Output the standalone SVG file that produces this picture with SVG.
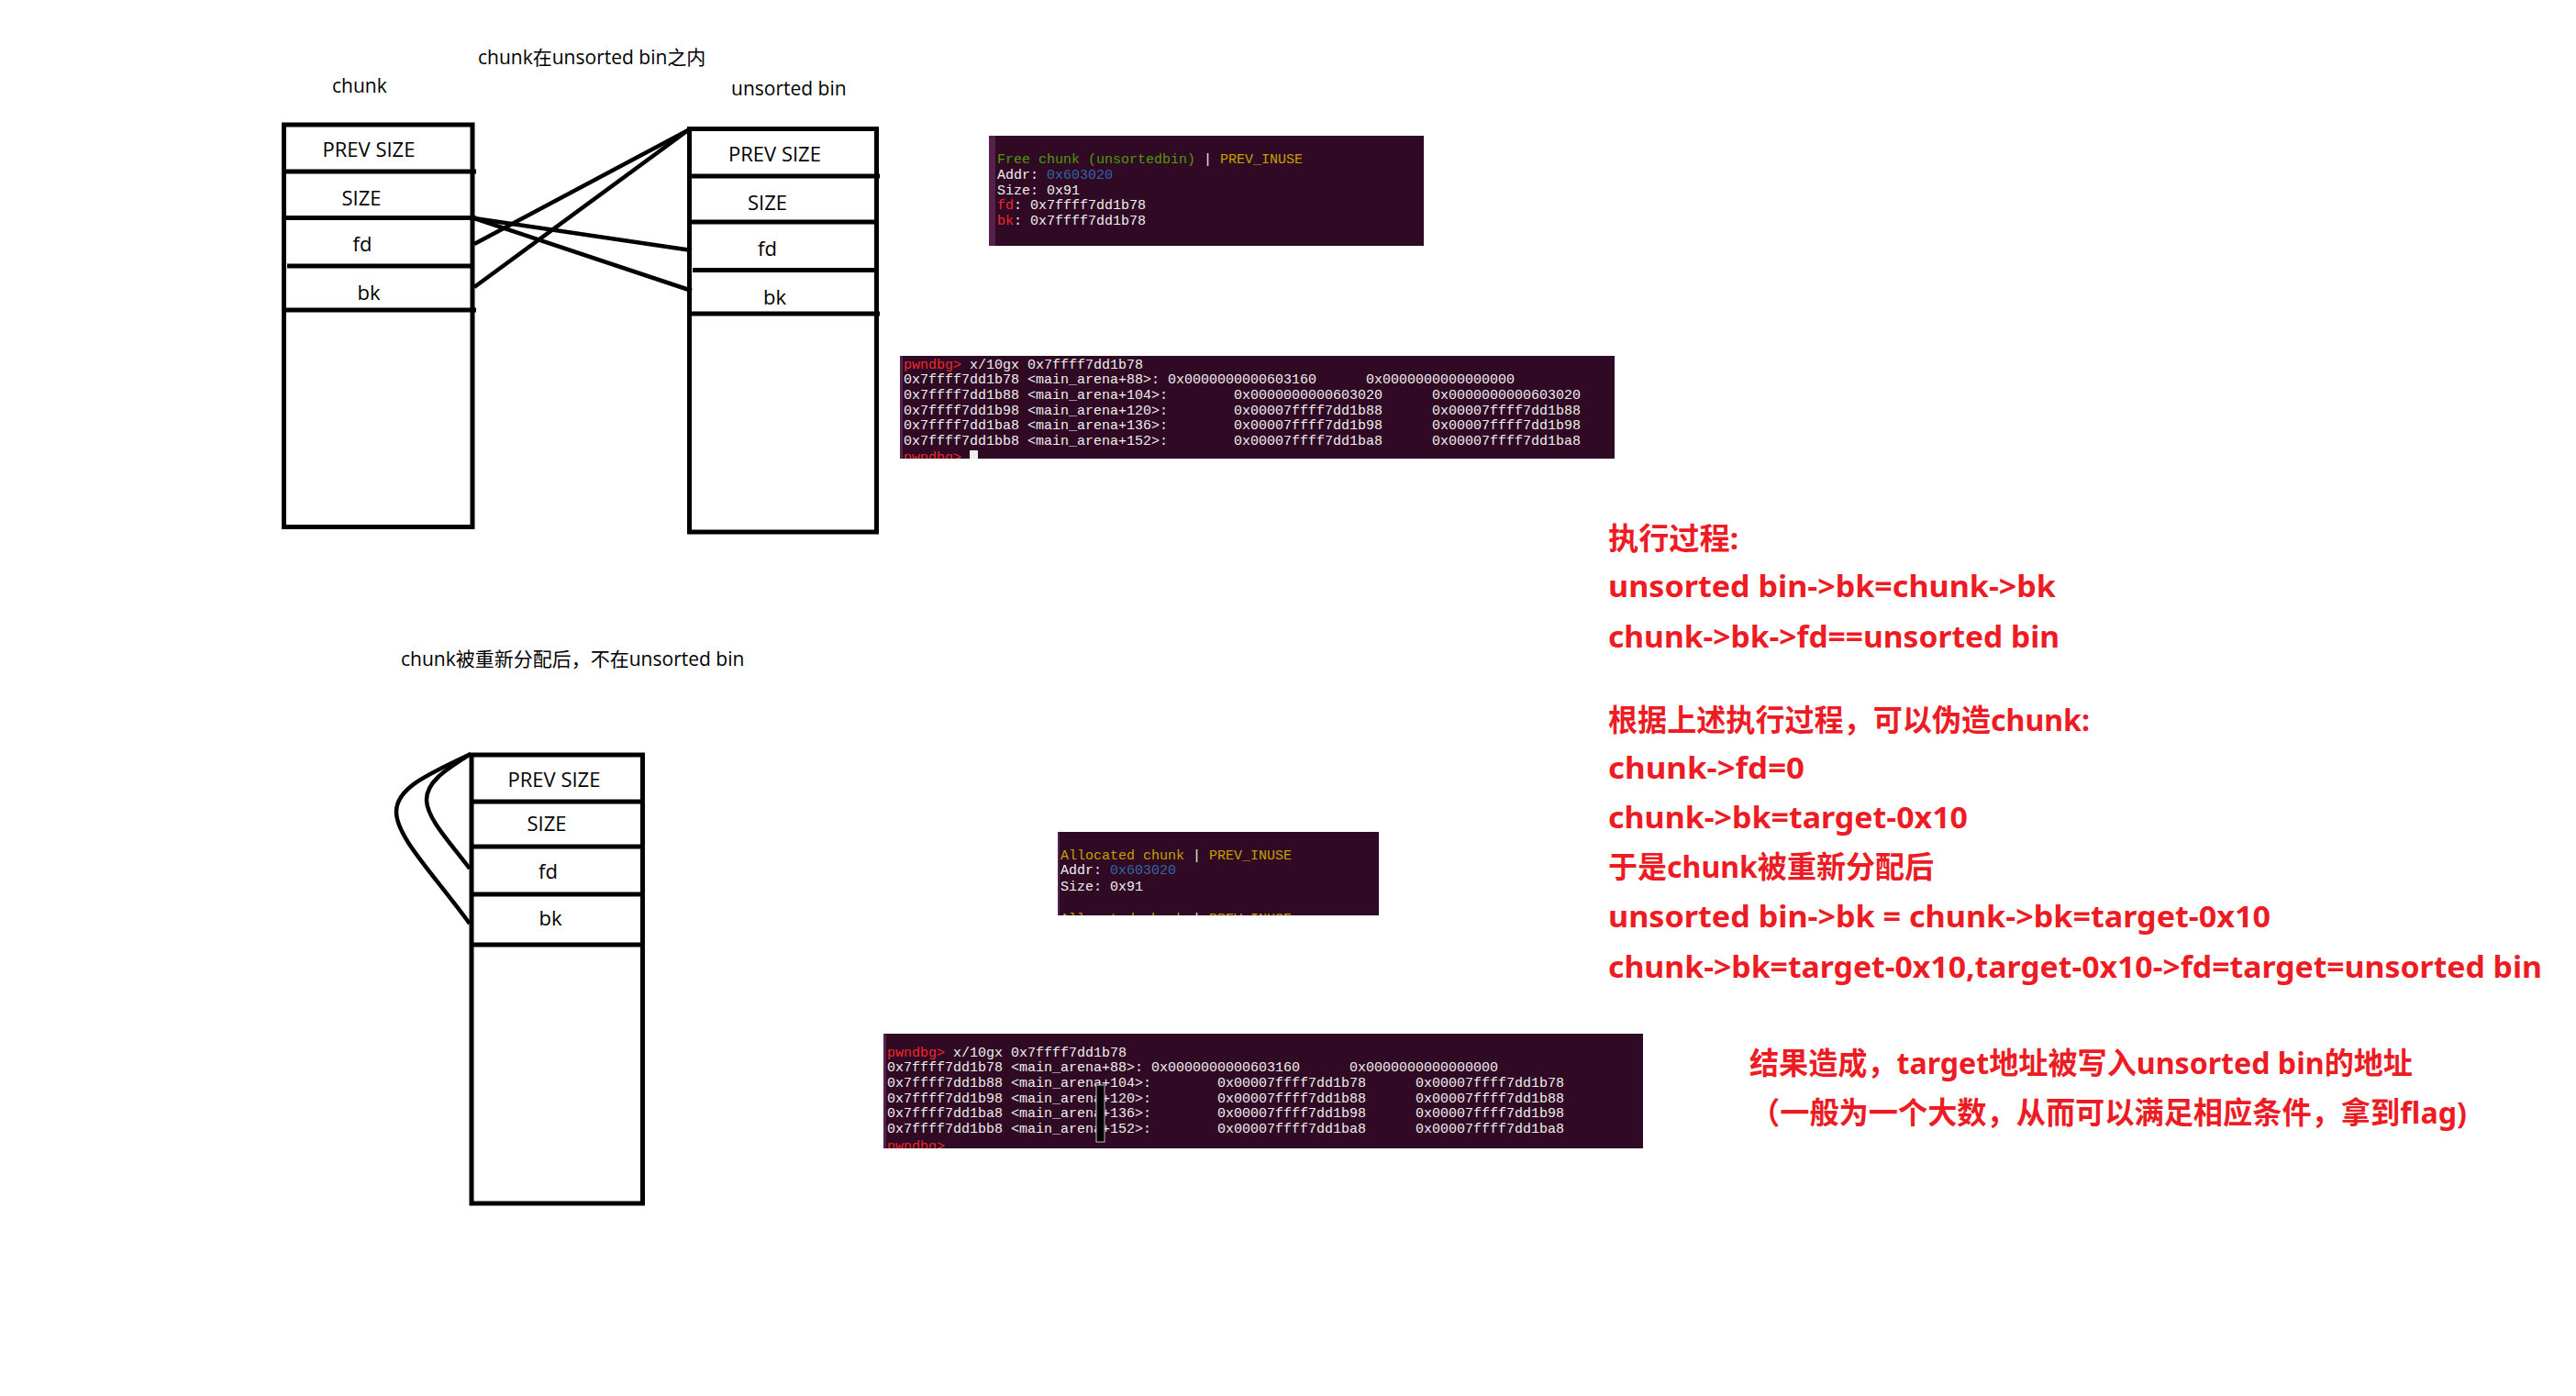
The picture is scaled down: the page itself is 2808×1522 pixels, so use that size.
<svg xmlns="http://www.w3.org/2000/svg" width="2808" height="1522" viewBox="0 0 2808 1522">
<style>
.box{fill:none;stroke:#000;stroke-width:5}
.row{stroke:#000;stroke-width:5}
.link{fill:none;stroke:#000;stroke-width:4.5}
.lbl{font-family:"Open Sans","Noto Sans CJK SC",sans-serif;font-size:22px;fill:#000;text-anchor:middle}
.cap{font-family:"Open Sans","Noto Sans CJK SC",sans-serif;font-size:21px;fill:#000}
.term{fill:#300a24}
.strip{fill:#55214b}
.mono{font-family:"Liberation Mono","DejaVu Sans Mono",monospace;font-size:15px;fill:#eeeeec;white-space:pre}
.g{fill:#4e9a06}.y{fill:#c4a000}.b{fill:#3465a4}.r{fill:#ef2929}
.red{font-family:"Noto Sans","Noto Sans CJK SC",sans-serif;font-size:33px;font-weight:bold;fill:#ed1c24}
</style>
<defs>
<clipPath id="c1"><rect x="1078" y="148" width="474" height="120"/></clipPath>
<clipPath id="c2"><rect x="981" y="388" width="779" height="112"/></clipPath>
<clipPath id="c3"><rect x="1153" y="907" width="350" height="91"/></clipPath>
<clipPath id="c4"><rect x="963" y="1127" width="828" height="125"/></clipPath>
</defs>
<rect width="2808" height="1522" fill="#fff"/>

<g id="captions">
<text class="cap" x="362" y="101">chunk</text>
<text class="cap" x="521" y="70">chunk在unsorted bin之内</text>
<text class="cap" x="797" y="104">unsorted bin</text>
<text class="cap" x="437" y="726">chunk被重新分配后，不在unsorted bin</text>
</g>

<g id="chunk-box">
<rect class="box" x="309.5" y="136" width="205.5" height="438.5"/>
<line class="row" x1="309" y1="187" x2="519" y2="187"/>
<line class="row" x1="309" y1="237.5" x2="519" y2="237.5"/>
<line class="row" x1="313" y1="290" x2="517" y2="290"/>
<line class="row" x1="309" y1="338" x2="519" y2="338"/>
<text class="lbl" x="402" y="171">PREV SIZE</text>
<text class="lbl" x="394" y="224">SIZE</text>
<text class="lbl" x="395" y="274">fd</text>
<text class="lbl" x="402" y="327">bk</text>
</g>

<g id="unsorted-bin-box">
<rect class="box" x="751.5" y="140.5" width="204" height="439.5"/>
<line class="row" x1="751" y1="192" x2="959" y2="192"/>
<line class="row" x1="751" y1="242" x2="957" y2="242"/>
<line class="row" x1="755" y1="294.5" x2="957" y2="294.5"/>
<line class="row" x1="751" y1="342" x2="959" y2="342"/>
<text class="lbl" x="844.5" y="176">PREV SIZE</text>
<text class="lbl" x="836.5" y="229">SIZE</text>
<text class="lbl" x="836.5" y="279">fd</text>
<text class="lbl" x="844.5" y="332">bk</text>
</g>

<g id="reallocated-chunk-box">
<rect class="box" x="514" y="823" width="186.5" height="489"/>
<line class="row" x1="514" y1="874" x2="703" y2="874"/>
<line class="row" x1="514" y1="923" x2="703" y2="923"/>
<line class="row" x1="514" y1="975" x2="703" y2="975"/>
<line class="row" x1="514" y1="1030" x2="700" y2="1030"/>
<text class="lbl" x="604" y="858">PREV SIZE</text>
<text class="lbl" x="596" y="906">SIZE</text>
<text class="lbl" x="597.5" y="958">fd</text>
<text class="lbl" x="600" y="1009">bk</text>
</g>

<g id="connectors">
<line class="link" x1="517" y1="266" x2="750" y2="142"/>
<line class="link" x1="517" y1="313" x2="750" y2="142"/>
<line class="link" x1="517" y1="238" x2="754" y2="273"/>
<line class="link" x1="517" y1="238" x2="754" y2="317"/>
<path class="link" d="M513,822 C470,843 432,858 432,885 C432,912 470,950 512,1007"/>
<path class="link" d="M513,822 C488,838 464,852 465,873 C466,893 490,918 512,947"/>
</g>

<g id="terminal-free-chunk">
<rect class="term" x="1078" y="148" width="474" height="120"/>
<rect class="strip" x="1078" y="148" width="7" height="120"/>
<g clip-path="url(#c1)">
<text class="mono" x="1087" y="178"><tspan class="g">Free chunk (unsortedbin)</tspan> | <tspan class="y">PREV_INUSE</tspan></text>
<text class="mono" x="1087" y="195">Addr: <tspan class="b">0x603020</tspan></text>
<text class="mono" x="1087" y="212">Size: 0x91</text>
<text class="mono" x="1087" y="228"><tspan class="r">fd</tspan>: 0x7ffff7dd1b78</text>
<text class="mono" x="1087" y="245"><tspan class="r">bk</tspan>: 0x7ffff7dd1b78</text>
</g>
</g>

<g id="terminal-memory-before">
<rect class="term" x="981" y="388" width="779" height="112"/>
<rect class="strip" x="981" y="388" width="3" height="112"/>
<g clip-path="url(#c2)">
<text class="mono" x="985" y="402"><tspan class="r">pwndbg&gt;</tspan> x/10gx 0x7ffff7dd1b78</text>
<text class="mono" x="985" y="418">0x7ffff7dd1b78 &lt;main_arena+88&gt;: 0x0000000000603160      0x0000000000000000</text>
<text class="mono" x="985" y="435">0x7ffff7dd1b88 &lt;main_arena+104&gt;:        0x0000000000603020      0x0000000000603020</text>
<text class="mono" x="985" y="452">0x7ffff7dd1b98 &lt;main_arena+120&gt;:        0x00007ffff7dd1b88      0x00007ffff7dd1b88</text>
<text class="mono" x="985" y="468">0x7ffff7dd1ba8 &lt;main_arena+136&gt;:        0x00007ffff7dd1b98      0x00007ffff7dd1b98</text>
<text class="mono" x="985" y="485">0x7ffff7dd1bb8 &lt;main_arena+152&gt;:        0x00007ffff7dd1ba8      0x00007ffff7dd1ba8</text>
<text class="mono" x="985" y="503"><tspan class="r">pwndbg&gt;</tspan></text>
<rect x="1057" y="491" width="9" height="12" fill="#eeeeec"/>
</g>
</g>

<g id="terminal-allocated-chunk">
<rect class="term" x="1153" y="907" width="350" height="91"/>
<rect class="strip" x="1153" y="907" width="2" height="91"/>
<g clip-path="url(#c3)">
<text class="mono" x="1156" y="937"><tspan class="y">Allocated chunk</tspan> | <tspan class="y">PREV_INUSE</tspan></text>
<text class="mono" x="1156" y="953">Addr: <tspan class="b">0x603020</tspan></text>
<text class="mono" x="1156" y="971">Size: 0x91</text>
<text class="mono" x="1156" y="1006"><tspan class="y">Allocated chunk</tspan> | <tspan class="y">PREV_INUSE</tspan></text>
</g>
</g>

<g id="terminal-memory-after">
<rect class="term" x="963" y="1127" width="828" height="125"/>
<rect class="strip" x="963" y="1127" width="3" height="125"/>
<g clip-path="url(#c4)">
<text class="mono" x="967" y="1152"><tspan class="r">pwndbg&gt;</tspan> x/10gx 0x7ffff7dd1b78</text>
<text class="mono" x="967" y="1168">0x7ffff7dd1b78 &lt;main_arena+88&gt;: 0x0000000000603160      0x0000000000000000</text>
<text class="mono" x="967" y="1185">0x7ffff7dd1b88 &lt;main_arena+104&gt;:        0x00007ffff7dd1b78      0x00007ffff7dd1b78</text>
<text class="mono" x="967" y="1202">0x7ffff7dd1b98 &lt;main_arena+120&gt;:        0x00007ffff7dd1b88      0x00007ffff7dd1b88</text>
<text class="mono" x="967" y="1218">0x7ffff7dd1ba8 &lt;main_arena+136&gt;:        0x00007ffff7dd1b98      0x00007ffff7dd1b98</text>
<text class="mono" x="967" y="1235">0x7ffff7dd1bb8 &lt;main_arena+152&gt;:        0x00007ffff7dd1ba8      0x00007ffff7dd1ba8</text>
<text class="mono" x="967" y="1254"><tspan class="r">pwndbg&gt;</tspan></text>
<rect x="1195" y="1183" width="9" height="62" fill="#000" stroke="#bbb" stroke-width="1"/>
</g>
</g>

<g id="explanation">
<text class="red" x="1753" y="599" textLength="142" lengthAdjust="spacingAndGlyphs">执行过程:</text>
<text class="red" x="1753" y="651" textLength="488" lengthAdjust="spacingAndGlyphs">unsorted bin-&gt;bk=chunk-&gt;bk</text>
<text class="red" x="1753" y="706" textLength="492" lengthAdjust="spacingAndGlyphs">chunk-&gt;bk-&gt;fd==unsorted bin</text>
<text class="red" x="1753" y="797" textLength="525" lengthAdjust="spacingAndGlyphs">根据上述执行过程，可以伪造chunk:</text>
<text class="red" x="1753" y="849" textLength="214" lengthAdjust="spacingAndGlyphs">chunk-&gt;fd=0</text>
<text class="red" x="1753" y="903" textLength="392" lengthAdjust="spacingAndGlyphs">chunk-&gt;bk=target-0x10</text>
<text class="red" x="1753" y="957" textLength="355" lengthAdjust="spacingAndGlyphs">于是chunk被重新分配后</text>
<text class="red" x="1753" y="1011" textLength="722" lengthAdjust="spacingAndGlyphs">unsorted bin-&gt;bk = chunk-&gt;bk=target-0x10</text>
<text class="red" x="1753" y="1066" textLength="1018" lengthAdjust="spacingAndGlyphs">chunk-&gt;bk=target-0x10,target-0x10-&gt;fd=target=unsorted bin</text>
</g>

<g id="result">
<text class="red" x="1907" y="1171" textLength="723" lengthAdjust="spacingAndGlyphs">结果造成，target地址被写入unsorted bin的地址</text>
<text class="red" x="1908" y="1225" textLength="781" lengthAdjust="spacingAndGlyphs">（一般为一个大数，从而可以满足相应条件，拿到flag)</text>
</g>
</svg>
